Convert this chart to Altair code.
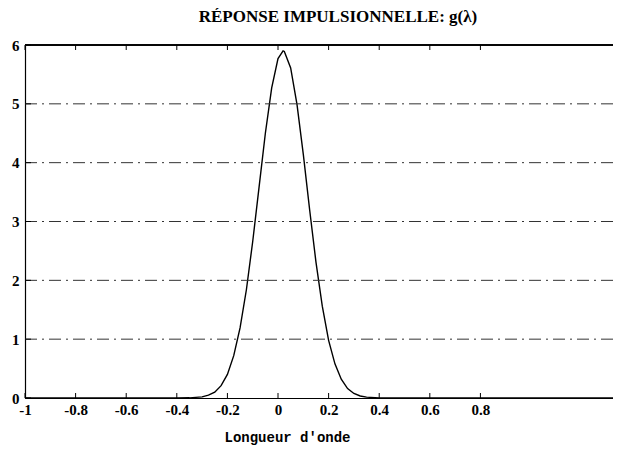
import altair as alt
import pandas as pd

# curve
x_vals = [-1.0, -0.5, -0.4, -0.35, -0.3, -0.275, -0.25, -0.225, -0.2, -0.175, -0.15, -0.125,
          -0.1, -0.075, -0.05, -0.025, 0.0, 0.02, 0.025, 0.05, 0.075, 0.1, 0.125,
          0.15, 0.175, 0.2, 0.225, 0.25, 0.275, 0.3, 0.325, 0.35, 0.4, 0.5, 1.324]
g_vals = [0.0, 0.0, 0.0, 0.003, 0.02, 0.048, 0.10, 0.21, 0.40, 0.72, 1.19, 1.84,
          2.66, 3.58, 4.50, 5.27, 5.77, 5.90, 5.89, 5.61, 4.99, 4.14, 3.20,
          2.31, 1.56, 0.98, 0.58, 0.32, 0.16, 0.077, 0.034, 0.014, 0.0, 0.0, 0.0]

grid_levels = [1, 2, 3, 4, 5]
x_ticks = [-1, -0.8, -0.6, -0.4, -0.2, 0, 0.2, 0.4, 0.6, 0.8]
y_ticks = [0, 1, 2, 3, 4, 5, 6]

W, H = 588, 353
serif = "Liberation Serif"

curve = pd.DataFrame({"x": x_vals, "g": g_vals})
grid_df = pd.DataFrame({"level": grid_levels})
xt_df = pd.DataFrame({"t": x_ticks})
yt_df = pd.DataFrame({"t": y_ticks})

xscale = alt.Scale(domain=[-1, 1.324], nice=False, zero=False)
yscale = alt.Scale(domain=[0, 6], nice=False)

xaxis = alt.Axis(orient="bottom", values=x_ticks, grid=False, ticks=False,
                 labelExpr="toString(datum.value)",
                 labelFont=serif, labelFontSize=15, labelFontWeight="bold", labelPadding=4,
                 labelColor="black", domainColor="black", domainWidth=1.2,
                 title="Longueur d'onde", titleFont="Liberation Mono", titleFontSize=14,
                 titleFontWeight="bold", titleColor="black", titleX=262, titleY=32,
                 titleBaseline="top", labelFlush=False)
yaxis = alt.Axis(orient="left", values=y_ticks, grid=False, ticks=False,
                 labelExpr="toString(datum.value)",
                 labelFont=serif, labelFontSize=15,
                 labelFontWeight="bold", labelColor="black", labelPadding=6,
                 domainColor="black", domainWidth=1.2, title=None)

grid = alt.Chart(grid_df).mark_rule(color="#333", strokeWidth=1, strokeDash=[12, 5, 2, 5]).encode(
    y=alt.Y("level:Q", scale=yscale, axis=yaxis), x=alt.value(0), x2=alt.value(W))

top = alt.Chart(grid_df).mark_rule(color="black", strokeWidth=1.2).encode(
    y=alt.value(0), x=alt.value(0), x2=alt.value(W))

line = alt.Chart(curve).mark_line(color="black", strokeWidth=1.4).encode(
    x=alt.X("x:Q", scale=xscale, axis=xaxis),
    y=alt.Y("g:Q", scale=yscale, axis=yaxis))

xt_bottom = alt.Chart(xt_df).mark_rule(color="black", strokeWidth=1).encode(
    x=alt.X("t:Q", scale=xscale, axis=xaxis), y=alt.value(H), y2=alt.value(H - 5))
xt_top = alt.Chart(xt_df).mark_rule(color="black", strokeWidth=1).encode(
    x=alt.X("t:Q", scale=xscale, axis=xaxis), y=alt.value(0), y2=alt.value(5))
yt = alt.Chart(yt_df).mark_rule(color="black", strokeWidth=1).encode(
    y=alt.Y("t:Q", scale=yscale, axis=yaxis), x=alt.value(0), x2=alt.value(6))

chart = alt.layer(line, grid, top, xt_bottom, xt_top, yt).properties(
    width=W, height=H, background="white",
    title=alt.TitleParams("RÉPONSE IMPULSIONNELLE: g(λ)", font=serif, fontSize=17,
                          fontWeight="bold", color="black", dx=19, offset=12),
    autosize=alt.AutoSizeParams(type="none"),
    padding={"left": 17, "top": 37, "right": 0, "bottom": 48},
).configure_view(strokeWidth=0, stroke="transparent")

chart.save("out.html", embed_options={"renderer": "svg", "actions": False})
